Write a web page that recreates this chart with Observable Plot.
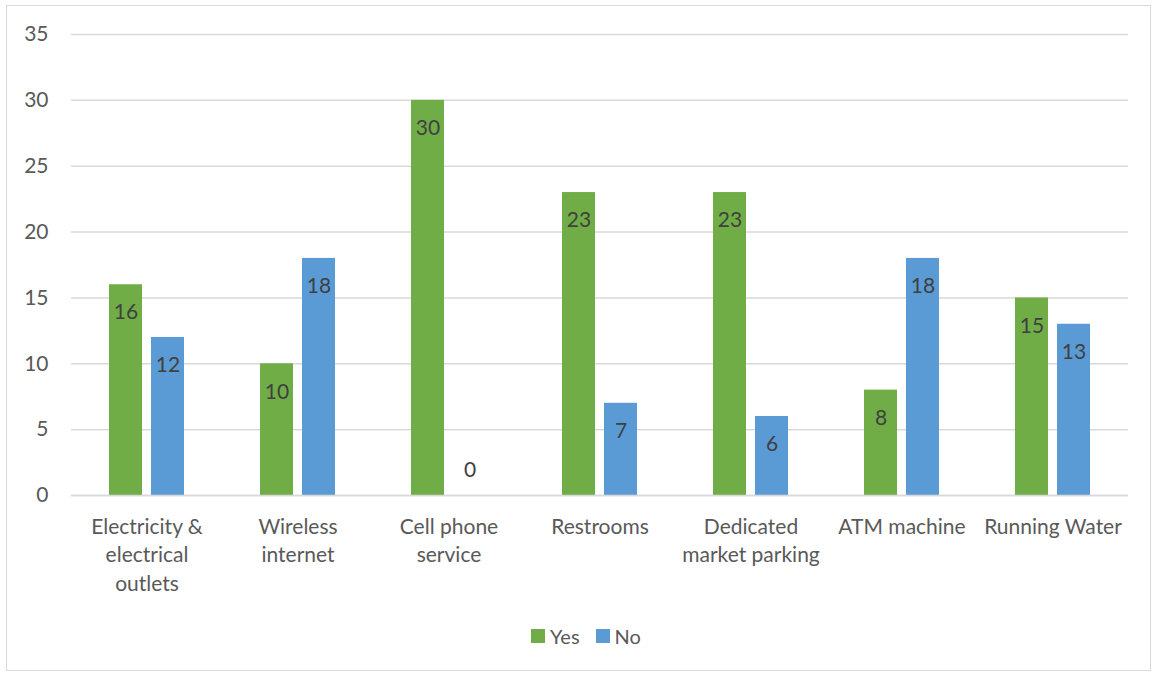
<!DOCTYPE html>
<html>
<head>
<meta charset="utf-8">
<script src="https://cdn.jsdelivr.net/npm/d3@7"></script>
<script src="https://cdn.jsdelivr.net/npm/@observablehq/plot@0.6"></script>
<style>
  html, body { margin: 0; padding: 0; background: #fff; }
  body { width: 1153px; height: 674px; position: relative; overflow: hidden; font-family: Lato, "Open Sans", sans-serif; }
  #frame { position: absolute; left: 6px; top: 5px; width: 1145px; height: 666px; border: 1px solid #d9d9d9; box-sizing: border-box; }
  #chart { position: absolute; left: 0; top: 0; }
  #legend { position: absolute; top: 624px; left: 0; width: 1153px; display: flex; justify-content: center; gap: 16px; font-size: 20px; color: #595959; padding-left: 19px; box-sizing: border-box; }
  #legend span { display: inline-flex; align-items: center; gap: 5px; }
  #legend i { display: inline-block; width: 14px; height: 14px; }
</style>
</head>
<body>
<div id="frame"></div>
<div id="chart"></div>
<div id="legend"></div>
<script>
// Amenities available at the market: number of "Yes" and "No" responses
const categories = [
  "Electricity & electrical outlets",
  "Wireless internet",
  "Cell phone service",
  "Restrooms",
  "Dedicated market parking",
  "ATM machine",
  "Running Water"
];
const categoryLabels = [
  "Electricity &\nelectrical\noutlets",
  "Wireless\ninternet",
  "Cell phone\nservice",
  "Restrooms",
  "Dedicated\nmarket parking",
  "ATM machine",
  "Running Water"
];
const yesValues = [16, 10, 30, 23, 23, 8, 15];
const noValues  = [12, 18, 0, 7, 6, 18, 13];
const seriesNames = ["Yes", "No"];
const seriesColors = ["#70AD47", "#5B9BD5"];
const yTicks = [0, 5, 10, 15, 20, 25, 30, 35];

const data = categories.flatMap((c, i) => [
  {category: c, series: "Yes", value: yesValues[i]},
  {category: c, series: "No", value: noValues[i]}
]);
const labelOf = new Map(categories.map((c, i) => [c, categoryLabels[i]]));

const chart = Plot.plot({
  width: 1153,
  height: 610,
  marginLeft: 70,
  marginRight: 24,
  marginTop: 34,
  marginBottom: 115,
  style: {fontFamily: "Lato, 'Open Sans', sans-serif", fontSize: "21px", color: "#595959", background: "transparent"},
  fx: {domain: categories, padding: 0, label: null, axis: null},
  x: {domain: seriesNames, axis: null, paddingInner: 0.209, paddingOuter: 0.864},
  y: {domain: [0, 35], axis: null},
  color: {domain: seriesNames, range: seriesColors},
  marks: [
    Plot.gridY(yTicks, {stroke: "#d9d9d9", strokeOpacity: 1, strokeWidth: 1.5}),
    Plot.axisY(yTicks, {anchor: "left", tickSize: 0, tickPadding: 23, fontSize: 21, fill: "#595959", label: null}),
    Plot.barY(data, {fx: "category", x: "series", y: "value", fill: "series"}),
    Plot.ruleY([0], {stroke: "#d9d9d9", strokeWidth: 1.5}),
    Plot.text(data.filter(d => d.value > 0), {fx: "category", x: "series", y: "value", text: d => String(d.value), dy: 28, fill: "#404040", fontSize: 21}),
    Plot.text(data.filter(d => d.value === 0), {fx: "category", x: "series", y: "value", text: d => String(d.value), dy: -25, fill: "#404040", fontSize: 21}),
    Plot.axisFx({anchor: "bottom", tickSize: 0, tickPadding: 18, fontSize: 21, fill: "#595959", lineHeight: 1.36, tickFormat: c => labelOf.get(c), label: null})
  ]
});
document.getElementById("chart").appendChild(chart);

const legend = document.getElementById("legend");
seriesNames.forEach((name, i) => {
  const item = document.createElement("span");
  const sw = document.createElement("i");
  sw.style.background = seriesColors[i];
  item.appendChild(sw);
  item.appendChild(document.createTextNode(name));
  legend.appendChild(item);
});
</script>
</body>
</html>
